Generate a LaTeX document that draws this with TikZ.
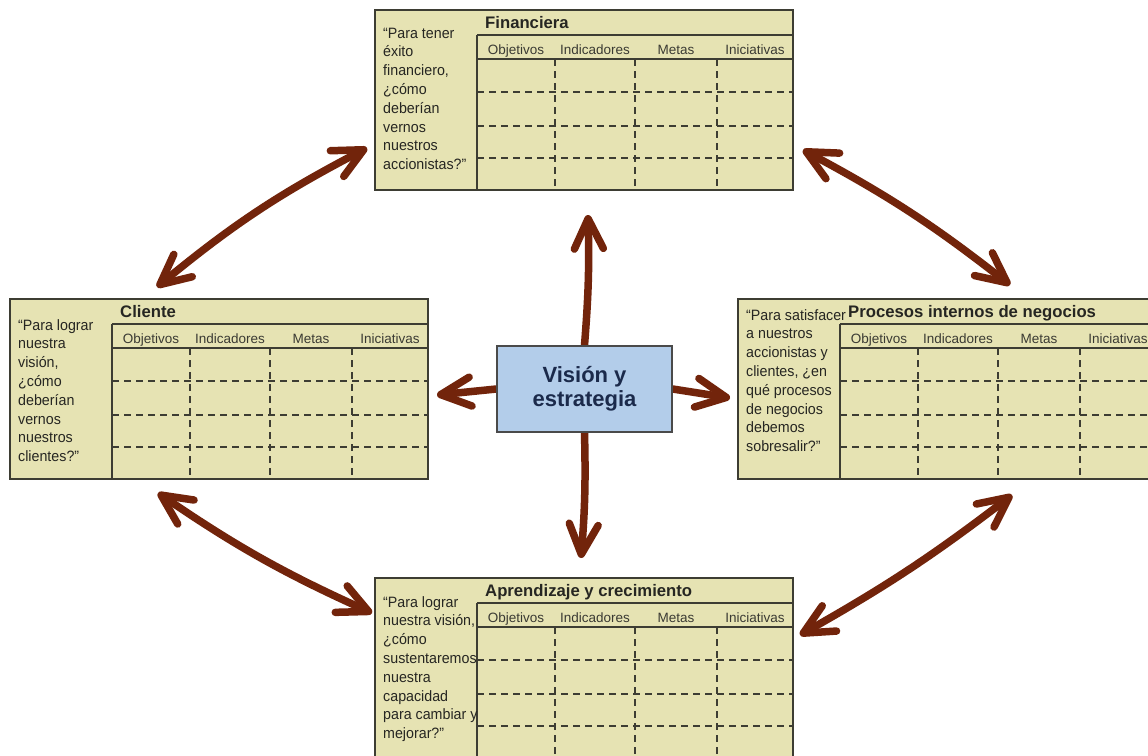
\documentclass[tikz,border=0pt]{standalone}
\usepackage{fontspec}
\setmainfont{Liberation Sans}
\newfontfamily\qfont{Liberation Sans}[FakeStretch=0.95]
\usetikzlibrary{arrows.meta,calc}

\definecolor{cardfill}{HTML}{E6E3B3}
\definecolor{cardline}{HTML}{3D3D33}
\definecolor{qtext}{HTML}{262622}
\definecolor{headtext}{HTML}{3A3A33}
\definecolor{visfill}{HTML}{B3CDEA}
\definecolor{visline}{HTML}{4A4A4A}
\definecolor{vistext}{HTML}{1B2A4B}
\definecolor{arrowc}{HTML}{72240B}

\pgfdeclarelayer{behind}
\pgfsetlayers{behind,main}

\tikzset{
  card/.style={draw=cardline, fill=cardfill, line width=1.8pt,
    minimum width=418pt, minimum height=180pt, inner sep=0pt, outer sep=0pt},
  tabrule/.style={draw=cardline, line width=1.8pt},
  tabdash/.style={draw=cardline, line width=1.3pt, dash pattern=on 7pt off 5pt},
  cardtitle/.style={anchor=base west, inner sep=0pt, text=qtext,
    font=\fontsize{16.7}{19}\selectfont\bfseries},
  colhead/.style={anchor=base, inner sep=0pt, text=headtext,
    font=\fontsize{13.5}{16}\selectfont},
  question/.style={anchor=north west, align=left, inner sep=0pt, text=qtext,
    font=\qfont\fontsize{15}{18.8}\selectfont},
  visbox/.style={draw=visline, fill=visfill, line width=1.5pt,
    minimum width=175pt, minimum height=86pt, inner sep=0pt, align=center,
    text=vistext, font=\fontsize{22}{23.5}\selectfont\bfseries},
  arrowline/.style={draw=arrowc, line width=7.5pt, line cap=round, line join=round},
  dbl/.style={arrowline,
    arrows={Straight Barb[length=30pt,width=29pt,round]-Straight Barb[length=30pt,width=29pt,round]}},
  sgl/.style={arrowline,
    arrows={-Straight Barb[length=30pt,width=29pt,round]}}
}

% #1 name, #2 left, #3 top, #4 title, #5 question, #6 top of the question text
\newcommand{\bsccard}[6]{%
  \begin{scope}[shift={(#2,#3)}]
    \node[card, anchor=north west] (#1) at (0,0) {};
    \draw[tabrule] (102,25) -- (418,25) (102,49) -- (418,49) (102,25) -- (102,180);
    \draw[tabdash] (102,82) -- (418,82) (102,116) -- (418,116) (102,148) -- (418,148)
      (180,49) -- (180,180) (260,49) -- (260,180) (342,49) -- (342,180);
    \node[cardtitle] at (110,18.5) {#4};
    \node[colhead] at (141,44) {Objetivos};
    \node[colhead] at (220,44) {Indicadores};
    \node[colhead] at (301,44) {Metas};
    \node[colhead] at (380,44) {Iniciativas};
    \node[question] at (8,#6) {#5};
  \end{scope}}

\begin{document}
\begin{tikzpicture}[x=1pt, y=-1pt]
  \useasboundingbox (0,0) rectangle (1148,755);
  \clip (0,0) rectangle (1148,755);
  \begin{pgfonlayer}{behind}
    \fill[white] (0,0) rectangle (1148,755);
  \end{pgfonlayer}

  % the four perspectives
  \bsccard{fin}{375}{10}{Financiera}
    {\strut“Para tener\\éxito\\financiero,\\¿cómo\\deberían\\vernos\\nuestros\\accionistas?”}{14.8}
  \bsccard{cli}{10}{299}{Cliente}
    {\strut“Para lograr\\nuestra\\visión,\\¿cómo\\deberían\\vernos\\nuestros\\clientes?”}{17.8}
  \bsccard{proc}{738}{299}{Procesos internos de negocios}
    {\strut“Para satisfacer\\a nuestros\\accionistas y\\clientes, ¿en\\qué procesos\\de negocios\\debemos\\sobresalir?”}{7.8}
  \bsccard{apr}{375}{578}{Aprendizaje y crecimiento}
    {\strut“Para lograr\\nuestra visión,\\¿cómo\\sustentaremos\\nuestra\\capacidad\\para cambiar y\\mejorar?”}{15.8}

  % vision and strategy at the centre
  \node[visbox] (vis) at (584.5,389) {Visión y\\estrategia};

  % arrows leaving the centre (their round ends tuck under the box)
  \begin{pgfonlayer}{behind}
    \draw[sgl] (vis.north) to[bend right=3] ($(fin.south)+(4,25)$);
    \draw[sgl] (vis.south) to[bend left=3] ($(apr.north)+(-3,-20)$);
    \draw[sgl] (vis.west) to ($(cli.east)+(9,6)$);
    \draw[sgl] (vis.east) to ($(proc.west)+(-8,9)$);
  \end{pgfonlayer}

  % links between neighbouring perspectives
  \draw[dbl] ($(fin.south west)+(-8,-42)$) to[bend right=6] ($(cli.north west)+(147,-12)$);
  \draw[dbl] ($(fin.south east)+(10,-40)$) to[bend left=5] ($(proc.north west)+(272,-14)$);
  \draw[dbl] ($(cli.south west)+(148,14)$) to[bend right=5] ($(apr.north west)+(-3,35)$);
  \draw[dbl] ($(proc.south west)+(274,16)$) to[bend left=4] ($(apr.north east)+(7,57)$);
\end{tikzpicture}
\end{document}
